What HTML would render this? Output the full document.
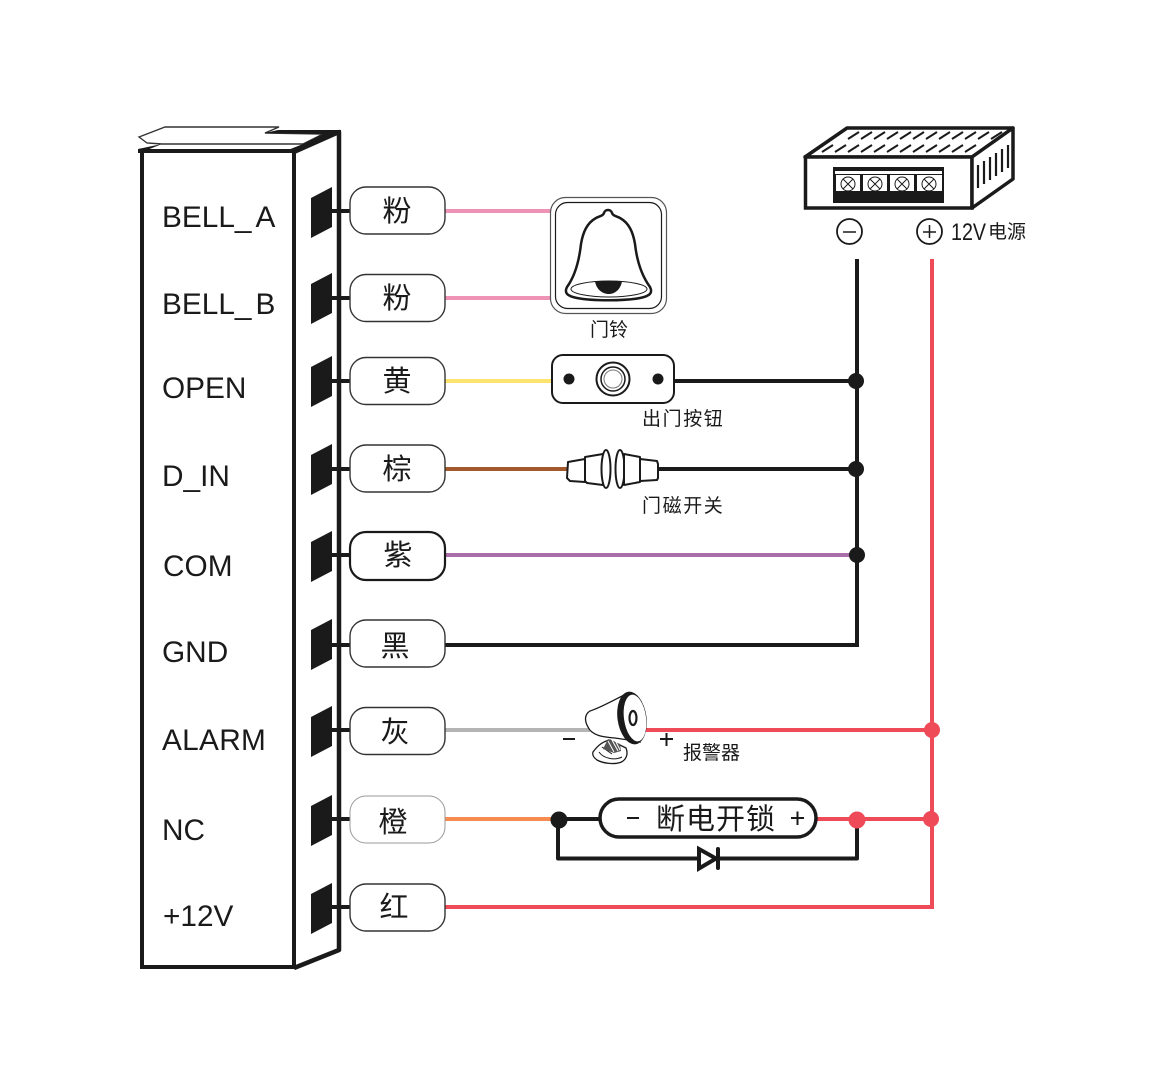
<!DOCTYPE html>
<html><head><meta charset="utf-8"><style>
html,body{margin:0;padding:0;background:#fff}
svg{display:block}
.l{font:29.8px "Liberation Sans",sans-serif;fill:#1a1a1a}
.c{font:29px "Liberation Sans","Noto Sans CJK SC",sans-serif;fill:#1a1a1a;text-anchor:middle}
.s{font:19px "Liberation Sans","Noto Sans CJK SC",sans-serif;fill:#1a1a1a}
.x{letter-spacing:1.6px}
.p{fill:#fff;stroke:#333;stroke-width:1.4}
.w{fill:none;stroke-width:4}
</style></head><body>
<svg width="1152" height="1078" viewBox="0 0 1152 1078" xmlns="http://www.w3.org/2000/svg">
<rect width="1152" height="1078" fill="#fff"/>

<!-- colored wires -->
<g class="w">
<path d="M445 211H552" stroke="#ee92b6"/>
<path d="M445 298H552" stroke="#ee92b6"/>
<path d="M445 381H552" stroke="#fde46e"/>
<path d="M445 469H568" stroke="#a2592c"/>
<path d="M445 555H856" stroke="#a96da8"/>
<path d="M445 730H590" stroke="#b4b4b4"/>
<path d="M445 819H558" stroke="#f68b4f"/>
<path d="M645 730H932M816 819H932M445 907H932V259" stroke="#ee4a58"/>
<path d="M674 381H856M655 469H856M445 645H857V259" stroke="#1a1a1a"/>
</g>

<!-- controller -->
<path d="M139 137L165 127H279L265 133 323 134 303 144H162L147 143Z" fill="#fff" stroke="#333" stroke-width="1.400"/>
<path d="M162 144L138 149V153H148L147 150Z" fill="#1a1a1a"/>
<path d="M265 133L278 130H341V137L296 154 288 150 303 144 323 134Z" fill="#1a1a1a"/>
<path d="M294 152L339 132V950L294 968" fill="#fff" stroke="#1a1a1a" stroke-width="4.500" stroke-linejoin="round"/>
<rect x="142" y="151" width="152" height="816" fill="#fff" stroke="#1a1a1a" stroke-width="4"/>

<g fill="#1a1a1a">
<path d="M311 198L332 187V227L311 238Z"/>
<path d="M311 284L332 273V313L311 324Z"/>
<path d="M311 367L332 356V396L311 407Z"/>
<path d="M311 455L332 444V484L311 495Z"/>
<path d="M311 542L332 531V571L311 582Z"/>
<path d="M311 630L332 619V659L311 670Z"/>
<path d="M311 717L332 706V746L311 757Z"/>
<path d="M311 806L332 795V835L311 846Z"/>
<path d="M311 894L332 883V923L311 934Z"/>
</g>
<g stroke="#1a1a1a" stroke-width="4">
<path d="M331 211H351M331 298H351M331 381H351M331 469H351M331 555H351M331 645H351M331 730H351M331 819H351M331 907H351"/>
</g>

<g class="l">
<text x="162" y="227">BELL_<tspan dx="4">A</tspan></text>
<text x="162" y="314">BELL_<tspan dx="4">B</tspan></text>
<text x="162" y="398">OPEN</text>
<text x="162" y="486">D_IN</text>
<text x="163" y="576">COM</text>
<text x="162" y="662">GND</text>
<text x="162" y="750" style="letter-spacing:.3px">ALARM</text>
<text x="162" y="840">NC</text>
<text x="163" y="926">+12V</text>
</g>

<!-- pills -->
<rect class="p" x="350" y="187" width="95" height="47" rx="16"/>
<rect class="p" x="350" y="274.500" width="95" height="47" rx="16"/>
<rect class="p" x="350" y="357.500" width="95" height="47" rx="16"/>
<rect class="p" x="350" y="445" width="95" height="47" rx="16"/>
<rect class="p" x="350" y="532" width="95" height="48" rx="16" style="stroke:#1a1a1a;stroke-width:2.200px"/>
<rect class="p" x="350" y="620" width="95" height="47" rx="16"/>
<rect class="p" x="350" y="707.500" width="95" height="47" rx="16"/>
<rect x="350" y="796" width="95" height="47" rx="16" fill="#fff" stroke="#999" stroke-width="1"/>
<rect class="p" x="350" y="884" width="95" height="47" rx="16"/>
<g class="c">
<text x="397" y="221">粉</text>
<text x="397" y="308">粉</text>
<text x="397" y="391">黄</text>
<text x="397" y="479">棕</text>
<text x="398" y="565">紫</text>
<text x="395" y="656">黑</text>
<text x="395" y="742">灰</text>
<text x="393" y="832">橙</text>
<text x="394" y="917">红</text>
</g>

<!-- bell -->
<rect x="550.500" y="197.500" width="116" height="116" rx="15" fill="#fff" stroke="#555" stroke-width="1.200"/>
<rect x="555.500" y="202.500" width="106" height="106" rx="12" fill="#fff" stroke="#1a1a1a" stroke-width="1.200"/>
<path d="M604 213C605 209 611 209 612 213C613 216 616 216 620 218C629 223 633 232 635 244C637 262 642 276 650 287C653 293 650 296 640 298C625 301 592 301 577 298C567 296 564 293 567 287C575 276 579 262 581 244C583 232 587 223 596 218C600 216 603 216 604 213Z" fill="#fff" stroke="#1a1a1a" stroke-width="2.500"/>
<ellipse cx="609" cy="289" rx="38" ry="8" fill="#fff" stroke="#1a1a1a" stroke-width="1"/>
<path d="M595 281H622C621 289 615 294 609 294C602 294 596 289 595 281Z" fill="#1a1a1a"/>
<text class="s" x="590" y="336">门铃</text>

<!-- exit button -->
<rect x="552" y="355" width="122" height="48" rx="11" fill="#fff" stroke="#1a1a1a" stroke-width="2"/>
<circle cx="569" cy="379" r="5.500" fill="#1a1a1a"/>
<circle cx="658" cy="379" r="5.500" fill="#1a1a1a"/>
<circle cx="613" cy="379" r="16.500" fill="#fff" stroke="#1a1a1a" stroke-width="2"/>
<circle cx="613" cy="379" r="12" fill="#fff" stroke="#1a1a1a" stroke-width="1.500"/>
<circle cx="613" cy="379" r="9" fill="#fff" stroke="#777" stroke-width="1"/>
<text class="s x" x="642" y="425">出门按钮</text>

<!-- magnetic switch -->
<g fill="#fff" stroke="#1a1a1a" stroke-width="2" stroke-linejoin="round">
<path d="M568 462L585 459V482L570 481L567 478Z"/>
<path d="M585 457L603 454V485L587 483L585 481Z"/>
<ellipse cx="606" cy="469" rx="4.500" ry="19"/>
<ellipse cx="620" cy="469" rx="4.500" ry="19"/>
<path d="M624 454L640 457V482L624 485Z"/>
<path d="M640 459L657 461L658 464V478L657 480L640 481Z"/>
</g>
<text class="s x" x="642" y="512">门磁开关</text>

<!-- power supply -->
<path d="M805 157L847 128H1013L972 157Z" fill="#fff" stroke="#1a1a1a" stroke-width="3.500" stroke-linejoin="round"/>
<rect x="805.500" y="157" width="166.500" height="51" fill="#fff" stroke="#1a1a1a" stroke-width="3.500"/>
<path d="M972 157L1013 128V179L972 208Z" fill="#fff" stroke="#1a1a1a" stroke-width="3.500" stroke-linejoin="round"/>
<g stroke="#1a1a1a" stroke-width="2">
<path d="M848 139l11-7M861 139l11-7M874 139l11-7M887 139l11-7M900 139l11-7M913 139l11-7M926 139l11-7M939 139l11-7M952 139l11-7M965 139l11-7M978 139l11-7M991 139l11-7"/>
<path d="M822 152l11-7M835 152l11-7M848 152l11-7M861 152l11-7M874 152l11-7M887 152l11-7M900 152l11-7M913 152l11-7M926 152l11-7M939 152l11-7M952 152l11-7M965 152l11-7"/>
<path d="M978 165V188M984 161V184M990 157V180M996 153V176M1002 149V172M1008 145V168" stroke-width="2.200"/>
</g>
<rect x="833" y="167" width="111" height="36" fill="#1a1a1a"/>
<rect x="835" y="171" width="107" height="3" fill="#fff"/>
<g fill="#fff"><rect x="836" y="175" width="24" height="16"/><rect x="863" y="175" width="24" height="16"/><rect x="890" y="175" width="24" height="16"/><rect x="917" y="175" width="25" height="16"/></g>
<g fill="#fff" stroke="#1a1a1a" stroke-width="1">
<circle cx="848" cy="184" r="7"/><circle cx="875" cy="184" r="7"/><circle cx="902" cy="184" r="7"/><circle cx="929" cy="184" r="7"/>
<path d="M843 179l10 10M853 179l-10 10M870 179l10 10M880 179l-10 10M897 179l10 10M907 179l-10 10M924 179l10 10M934 179l-10 10"/>
</g>
<circle cx="849.500" cy="231.500" r="12.500" fill="#fff" stroke="#1a1a1a" stroke-width="1.800"/>
<path d="M843 232H856" stroke="#1a1a1a" stroke-width="1.500"/>
<circle cx="929.500" cy="231.500" r="12.500" fill="#fff" stroke="#1a1a1a" stroke-width="1.800"/>
<path d="M923 232H936M929.500 225V238" stroke="#1a1a1a" stroke-width="1.500"/>
<text x="951" y="240" textLength="35" lengthAdjust="spacingAndGlyphs" style="font:24px 'Liberation Sans',sans-serif" fill="#1a1a1a">12V</text>
<text class="s" x="988" y="238">电源</text>

<!-- junctions -->
<g fill="#1a1a1a">
<circle cx="856" cy="381" r="8"/><circle cx="856" cy="469" r="8"/><circle cx="857" cy="555" r="8"/>
</g>
<circle cx="932" cy="730" r="8" fill="#ee4a58"/>
<circle cx="931" cy="819" r="8" fill="#ee4a58"/>

<!-- alarm -->
<path d="M590 711C600 708 612 701 628 693L640 742C630 740 622 739 615 738C604 737 592 736 588 727C584 720 585 714 590 711Z" fill="#fff" stroke="#1a1a1a" stroke-width="1.300"/>
<ellipse cx="632" cy="718" rx="14.500" ry="26.500" transform="rotate(-8 632 718)" fill="#1a1a1a"/>
<ellipse cx="635" cy="718" rx="11" ry="23.500" transform="rotate(-8 635 718)" fill="#fff"/>
<ellipse cx="633" cy="718" rx="3.500" ry="7" fill="#fff" stroke="#1a1a1a" stroke-width="2.200"/>
<path d="M593 752C598 745 604 741 610 740L626 748C628 753 627 758 623 761C618 765 604 764 597 760C594 758 592 755 593 752Z" fill="#fff" stroke="#1a1a1a" stroke-width="1.300"/>
<path d="M599 752C603 758 614 761 622 757M602 747L612 754" fill="none" stroke="#1a1a1a" stroke-width="1"/>
<path d="M603 749L608 739L620 744L621 751L614 753Z" fill="#555"/>
<path d="M608 741L614 752M612 740L618 751M616 742L620 750" stroke="#fff" stroke-width="1"/>
<path d="M563 739H575M660 739H673M666.500 733V746" stroke="#1a1a1a" stroke-width="2"/>
<text class="s" x="683" y="759">报警器</text>

<!-- lock -->
<path d="M558 819H600M558 819V858.500H697M720 858.500H857V819" fill="none" stroke="#1a1a1a" stroke-width="4" stroke-linejoin="round"/>
<rect x="600" y="799" width="216" height="38" rx="19" fill="#fff" stroke="#1a1a1a" stroke-width="3.500"/>
<path d="M699 849L716 858.500L699 868.500Z" fill="#fff" stroke="#1a1a1a" stroke-width="4"/>
<path d="M718 849V868" stroke="#1a1a1a" stroke-width="4" stroke-linecap="round"/>
<circle cx="559" cy="820" r="8.500" fill="#1a1a1a"/>
<circle cx="857" cy="820" r="8.500" fill="#ee4a58"/>
<path d="M627 818H639M791 818H804M797.500 811.500V825" stroke="#1a1a1a" stroke-width="2"/>
<text x="656" y="829" style="font:29px 'Liberation Sans','Noto Sans CJK SC',sans-serif;letter-spacing:1px" fill="#1a1a1a">断电开锁</text>
</svg>
</body></html>
